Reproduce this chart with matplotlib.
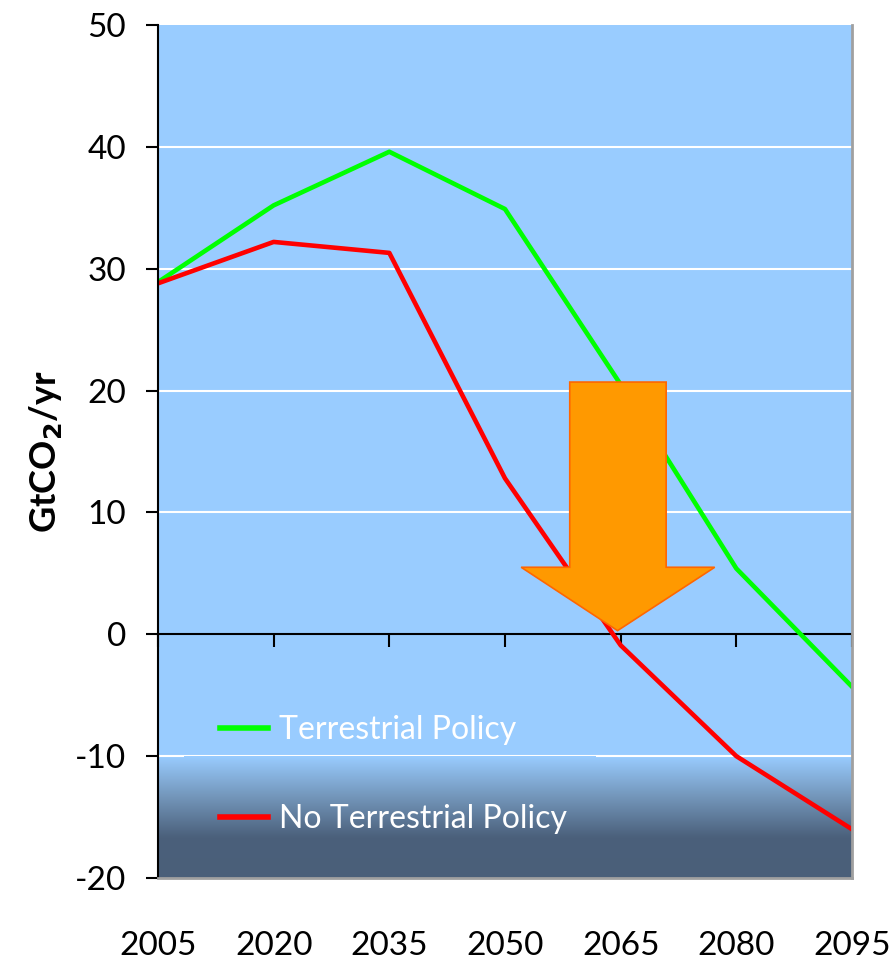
import numpy as np
import matplotlib.pyplot as plt
from matplotlib.patches import Polygon, Rectangle
from matplotlib.colors import LinearSegmentedColormap

plt.rcParams['font.family'] = ['Lato', 'DejaVu Sans']
plt.rcParams['axes.unicode_minus'] = False

years = [2005, 2020, 2035, 2050, 2065, 2080, 2095]
terrestrial = [28.9, 35.2, 39.6, 34.9, 20.5, 5.4, -4.3]
no_terrestrial = [28.8, 32.2, 31.3, 12.8, -0.9, -10.0, -16.0]
yticks = [-20, -10, 0, 10, 20, 30, 40, 50]

fig = plt.figure(figsize=(8.94, 9.66), dpi=100)
ax = fig.add_axes([0.1767, 0.0911, 0.7763, 0.883])
ax.set_xlim(2005, 2095)
ax.set_ylim(-20, 50)
ax.set_facecolor('#99CCFF')

# dark fade at the bottom of the plot area
fade = LinearSegmentedColormap.from_list('fade', ['#99CCFF', '#7396BA', '#4B607B', '#4A5F79'])
grad = np.linspace(0, 1, 256).reshape(-1, 1)
ax.imshow(grad, cmap=fade, aspect='auto', extent=(2005, 2095, -20, -10),
          origin='upper', zorder=0.2)

# white gridlines
for v in [10, 20, 30, 40, -10]:
    ax.axhline(v, color='white', lw=1.5, zorder=0.5)

# legend box hides the gridline behind it
box = ax.imshow(grad, cmap=fade, aspect='auto', extent=(2005, 2095, -20, -10),
                origin='upper', zorder=0.8)
box.set_clip_path(Rectangle((0.037, 0.0), 0.593, 0.3, transform=ax.transAxes))

ax.plot(years, terrestrial, color='#00FF00', lw=3.3, label='Terrestrial Policy', zorder=2)
ax.plot(years, no_terrestrial, color='#FF0000', lw=3.3, label='No Terrestrial Policy', zorder=2)

# orange arrow
arrow = Polygon([(2058.4, 20.7), (2070.9, 20.7), (2070.9, 5.5), (2077.2, 5.5),
                 (2064.6, 0.3), (2052.1, 5.5), (2058.4, 5.5)],
                closed=True, facecolor='#FF9900', edgecolor='#FF6600', lw=1.2, zorder=3)
ax.add_patch(arrow)

ax.spines['top'].set_visible(False)
ax.spines['left'].set_linewidth(1.5)
ax.spines['right'].set_color('#A0A0A0')
ax.spines['right'].set_linewidth(2)
ax.spines['bottom'].set_color('#A0A0A0')
ax.spines['bottom'].set_linewidth(2)

ax.set_yticks(yticks)
ax.tick_params(axis='y', direction='out', length=9, width=1.5, pad=14, labelsize=24)
ax.set_xticks(years)
ax.tick_params(axis='x', length=0, pad=38, labelsize=24)

# zero line with year ticks
zero = ax.secondary_xaxis(20 / 70)
zero.set_xticks(years)
zero.set_xticklabels([])
zero.tick_params(direction='out', length=9, width=1.5)
zero.spines['bottom'].set_linewidth(1.5)

ax.set_ylabel('GtCO$_\\mathbf{2}$/yr', fontsize=26, fontweight='bold', labelpad=8)

leg = ax.legend(loc='upper left', bbox_to_anchor=(0.048, 0.225), frameon=False,
                fontsize=23, handlelength=1.5, handletextpad=0.35, labelspacing=1.85)
for t in leg.get_texts():
    t.set_color('white')
for h in leg.legend_handles:
    h.set_linewidth(4)

fig.savefig('out.png', dpi=100)
